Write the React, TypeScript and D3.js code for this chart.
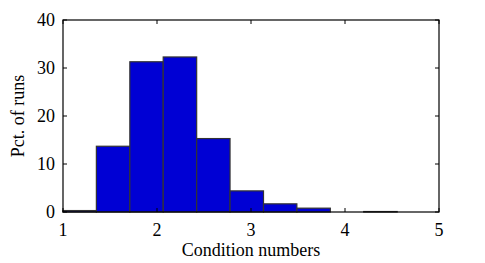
import * as d3 from 'd3';

// bin edges (11 edges -> 10 bins)
const binEdges = [1.0, 1.355, 1.711, 2.066, 2.422, 2.777, 3.133, 3.488, 3.844, 4.199, 4.555];
const pctRuns = [0.3, 13.7, 31.3, 32.3, 15.3, 4.4, 1.7, 0.8, 0, 0.1];
const xTicks = [1, 2, 3, 4, 5];
const yTicks = [0, 10, 20, 30, 40];

const W = 485;
const H = 263;
const margin = { top: 20, right: 46, bottom: 51, left: 63 };
const FONT = 'Liberation Serif';
const FS = 18;

export default function App() {
  const width = W - margin.left - margin.right;
  const height = H - margin.top - margin.bottom;

  const x = d3.scaleLinear().domain([1, 5]).range([0, width]);
  const y = d3.scaleLinear().domain([0, 40]).range([height, 0]);

  const bins = pctRuns.map((v, i) => ({ x0: binEdges[i], x1: binEdges[i + 1], v }));
  const tick = 4;
  const textStyle = { fontFamily: FONT, fontSize: FS };

  return (
    <svg width={W} height={H} style={{ position: 'absolute', left: 0, top: 0, background: '#fff' }}>
      <g transform={`translate(${margin.left},${margin.top})`}>
        {bins.map((d, i) => (
          <rect
            key={i}
            x={x(d.x0)}
            y={y(d.v)}
            width={x(d.x1) - x(d.x0)}
            height={y(0) - y(d.v)}
            fill="#0000d4"
            stroke="#333"
            strokeWidth={1.2}
          />
        ))}

        {/* ticks pointing inwards on all four sides */}
        {xTicks.map((t) => (
          <g key={`x${t}`}>
            <line x1={x(t)} x2={x(t)} y1={height} y2={height - tick} stroke="#000" />
            <line x1={x(t)} x2={x(t)} y1={0} y2={tick} stroke="#000" />
            <text x={x(t)} y={height + 24} textAnchor="middle" style={textStyle}>
              {t}
            </text>
          </g>
        ))}
        {yTicks.map((t) => (
          <g key={`y${t}`}>
            <line x1={0} x2={tick} y1={y(t)} y2={y(t)} stroke="#000" />
            <line x1={width} x2={width - tick} y1={y(t)} y2={y(t)} stroke="#000" />
            <text x={-8} y={y(t)} dy="0.35em" textAnchor="end" style={textStyle}>
              {t}
            </text>
          </g>
        ))}

        <rect width={width} height={height} fill="none" stroke="#000" strokeWidth={1.2} />

        <text x={x(3)} y={height + 44} textAnchor="middle" style={textStyle}>
          Condition numbers
        </text>
        <text
          transform={`translate(${-margin.left + 24},${height / 2})rotate(-90)`}
          textAnchor="middle"
          style={textStyle}
        >
          Pct. of runs
        </text>
      </g>
    </svg>
  );
}
